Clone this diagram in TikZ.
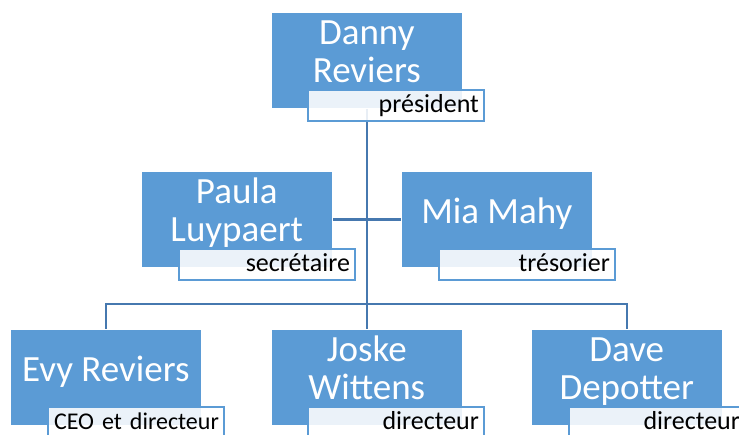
\documentclass[tikz,border=0pt]{standalone}
\usepackage{fontspec}
\setmainfont{Carlito}
\usetikzlibrary{backgrounds,calc}
\definecolor{boxblue}{RGB}{91,155,213}
\definecolor{lineblue}{RGB}{70,120,175}
\tikzset{
  personbox/.style={rectangle, fill=boxblue, draw=white, line width=0.6pt,
    minimum width=191pt, minimum height=96pt, inner sep=0pt, anchor=north west},
  rolebox/.style={rectangle, draw=boxblue, line width=1.8pt, fill=white, fill opacity=0.88,
    draw opacity=1, text opacity=1,
    minimum width=176pt, minimum height=31pt, inner xsep=5pt, inner ysep=0pt,
    text width=166pt, align=right, text height=20pt, text depth=5pt,
    font=\fontsize{26}{28}\selectfont, anchor=north west},
  nametext/.style={text=white, align=center, anchor=base, inner sep=0pt,
    font=\fontsize{37}{38}\selectfont},
  conn/.style={draw=lineblue, line width=2.5pt}
}
\begin{document}
\begin{tikzpicture}[x=1pt,y=-1pt]
\useasboundingbox (0,0) rectangle (739,435);
% boxes
\node[personbox] (danny) at (271,12) {};
\node[personbox] (paula) at (141,171) {};
\node[personbox] (mia) at (401,171) {};
\node[personbox] (evy) at (10,329) {};
\node[personbox] (joske) at (271,329) {};
\node[personbox] (dave) at (531,329) {};
% names
\node[nametext] (dannyname) at ($(danny.north)+(0,71)$) {Danny\\Reviers};
\node[nametext] (paulaname) at ($(paula.north)+(0,71)$) {Paula\\Luypaert};
\node[nametext] (mianame) at ($(mia.north)+(0,53)$) {Mia Mahy};
\node[nametext] (evyname) at ($(evy.north)+(0,53)$) {Evy Reviers};
\node[nametext] (joskename) at ($(joske.north)+(0,71)$) {Joske\\Wittens};
\node[nametext] (davename) at ($(dave.north)+(0,71)$) {Dave\\Depotter};
% roles
\node[rolebox] (dannyrole) at ($(danny.north west)+(36,77)$) {président};
\node[rolebox] (paularole) at ($(paula.north west)+(37,77)$) {secrétaire};
\node[rolebox] (miarole) at ($(mia.north west)+(37,77)$) {trésorier};
\node[rolebox, font=\fontsize{24}{26}\selectfont] (evyrole) at ($(evy.north west)+(37,77)$) {CEO et directeur};
\node[rolebox] (joskerole) at ($(joske.north west)+(36,77)$) {directeur};
\node[rolebox] (daverole) at ($(dave.north west)+(37,77)$) {directeur};
% connectors
\begin{scope}[on background layer]
\coordinate (busleft) at ($(evy.north)+(0,-25)$);
\draw[conn] (danny.center) -- (joske.center);
\draw[conn] (paula.east) -- (mia.west);
\draw[conn] (evy.north) -- (busleft) -| (dave.north);
\end{scope}
\end{tikzpicture}
\end{document}
